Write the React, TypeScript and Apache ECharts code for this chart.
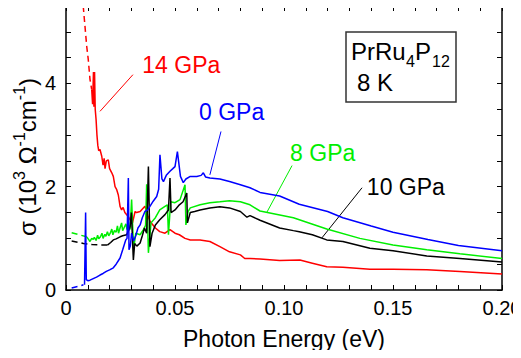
import React, { useEffect, useRef } from "react";
import * as echarts from "echarts";

// ---- data (photon energy eV, sigma 10^3 Ohm^-1 cm^-1) ----
const blueDash: number[][] = [[0.0026, 0.04], [0.0055, 0.07], [0.008, 0.1]];
const blue: number[][] = [
  [0.0085, 0.1], [0.009, 1.5], [0.0093, 0.2], [0.01, 0.18], [0.011, 0.19], [0.0125, 0.22], [0.014, 0.25],
  [0.0156, 0.29], [0.017, 0.32], [0.0185, 0.36], [0.02, 0.39], [0.0217, 0.43], [0.023, 0.5], [0.0248, 0.62],
  [0.026, 0.78], [0.0274, 0.97], [0.028, 1.0], [0.0286, 2.17], [0.0289, 0.78], [0.0295, 0.85], [0.0301, 1.1],
  [0.031, 0.95], [0.032, 1.05], [0.033, 1.2], [0.034, 1.26], [0.035, 1.4], [0.0362, 1.52], [0.0375, 1.55],
  [0.0385, 1.62], [0.04, 1.72], [0.0416, 1.81], [0.0425, 1.95], [0.0431, 2.62], [0.044, 2.15], [0.0447, 2.1],
  [0.046, 2.22], [0.0477, 2.3], [0.049, 2.35], [0.05, 2.39], [0.0511, 2.68], [0.0525, 2.2], [0.0538, 2.08],
  [0.055, 2.15], [0.057, 2.2], [0.06, 2.2], [0.062, 2.22], [0.063, 2.27], [0.064, 2.19], [0.066, 2.17],
  [0.0706, 2.15], [0.075, 2.1], [0.08, 2.04], [0.0844, 1.98], [0.089, 1.89], [0.098, 1.82], [0.107, 1.66],
  [0.12, 1.52], [0.127, 1.4], [0.14, 1.24], [0.15, 1.12], [0.166, 0.98], [0.18, 0.86], [0.2, 0.76],
];
const greenDash: number[][] = [[0.0026, 1.11], [0.006, 1.07], [0.0095, 1.03]];
const green: number[][] = [
  [0.0095, 1.03], [0.0105, 0.97], [0.011, 0.94], [0.0118, 1.0], [0.0125, 0.98], [0.013, 1.02], [0.0138, 0.96],
  [0.0145, 1.06], [0.015, 0.99], [0.0158, 1.03], [0.0165, 1.1], [0.017, 1.0], [0.0178, 1.08], [0.0183, 1.04],
  [0.019, 1.13], [0.0196, 1.05], [0.0203, 1.1], [0.021, 1.18], [0.0215, 1.07], [0.0222, 1.15], [0.023, 1.12],
  [0.0236, 1.24], [0.0241, 1.1], [0.0248, 1.2], [0.0255, 1.3], [0.026, 1.15], [0.0268, 1.22], [0.0275, 1.28],
  [0.028, 1.17], [0.0287, 1.25], [0.0294, 1.17],
  [0.0301, 1.75], [0.031, 0.78], [0.032, 1.1], [0.034, 1.07], [0.0355, 1.17], [0.0365, 1.25], [0.037, 2.05],
  [0.0378, 0.72], [0.039, 1.3], [0.041, 1.4], [0.043, 1.55], [0.0454, 1.62], [0.0465, 1.65], [0.047, 1.07],
  [0.048, 1.71], [0.05, 1.69], [0.0523, 1.75], [0.0546, 2.04], [0.055, 1.26], [0.056, 1.52], [0.057, 1.59],
  [0.0615, 1.65], [0.066, 1.69], [0.0706, 1.71], [0.075, 1.73], [0.08, 1.71], [0.0844, 1.65], [0.089, 1.53],
  [0.1043, 1.4], [0.1196, 1.18], [0.1348, 1.0], [0.15, 0.87], [0.1655, 0.78], [0.1807, 0.7], [0.2, 0.61],
];
const blackDash: number[][] = [[0.0026, 0.95], [0.008, 0.9], [0.012, 0.88], [0.016, 0.87], [0.019, 0.87]];
const black: number[][] = [
  [0.019, 0.87], [0.0205, 0.92], [0.0217, 0.97], [0.023, 0.99], [0.0248, 1.03], [0.026, 1.05], [0.0278, 1.07],
  [0.0287, 1.15], [0.0294, 1.23], [0.03, 1.5], [0.0309, 0.58], [0.0315, 0.9], [0.0325, 0.85], [0.034, 0.91],
  [0.035, 1.05], [0.036, 1.2], [0.037, 1.1], [0.0378, 2.39], [0.0385, 0.84], [0.0395, 1.1], [0.041, 1.26],
  [0.043, 1.36], [0.0454, 1.46], [0.047, 1.55], [0.0477, 2.17], [0.0482, 1.5], [0.05, 1.55], [0.052, 1.65],
  [0.0537, 1.71], [0.0554, 1.88], [0.0557, 1.3], [0.057, 1.5], [0.059, 1.52], [0.0615, 1.55], [0.066, 1.59],
  [0.0706, 1.61], [0.075, 1.59], [0.08, 1.52], [0.083, 1.41], [0.0844, 1.44], [0.089, 1.35], [0.098, 1.2],
  [0.1043, 1.15], [0.107, 1.13], [0.113, 1.07], [0.1196, 0.97], [0.127, 0.94], [0.1394, 0.81], [0.15, 0.76],
  [0.1655, 0.66], [0.1807, 0.61], [0.2, 0.54],
];
const redDash: number[][] = [[0.0079, 5.5], [0.0087, 5.11], [0.0095, 4.72], [0.0102, 4.47], [0.011, 4.08], [0.0118, 3.88]];
const red: number[][] = [
  [0.0118, 3.88], [0.0122, 3.6], [0.0126, 4.22], [0.0128, 3.55], [0.0131, 4.22], [0.0134, 3.5], [0.0138, 3.3],
  [0.0142, 3.0], [0.0146, 2.8], [0.015, 2.7], [0.0156, 2.72], [0.0164, 2.59], [0.017, 2.42], [0.0175, 2.55],
  [0.0179, 2.35], [0.0185, 2.5], [0.0194, 2.52], [0.02, 2.35], [0.021, 2.27], [0.0217, 2.2], [0.0225, 2.0],
  [0.0232, 1.95], [0.024, 1.84], [0.0248, 1.62], [0.0255, 1.55], [0.0262, 1.6], [0.027, 1.5], [0.0286, 1.42],
  [0.0294, 1.36], [0.0305, 1.3], [0.0317, 1.52], [0.0324, 1.5], [0.034, 1.52], [0.0362, 1.62], [0.0375, 1.45],
  [0.0385, 1.33], [0.041, 1.2], [0.043, 1.13], [0.0454, 1.1], [0.0477, 1.17], [0.05, 1.1], [0.052, 1.07],
  [0.0546, 1.0], [0.057, 0.97], [0.0615, 0.97], [0.066, 0.94], [0.0706, 0.84], [0.075, 0.74], [0.08, 0.68],
  [0.082, 0.61], [0.0844, 0.61], [0.089, 0.6], [0.098, 0.57], [0.1073, 0.58], [0.113, 0.52], [0.1196, 0.45],
  [0.127, 0.44], [0.1394, 0.4], [0.15, 0.4], [0.1655, 0.39], [0.1807, 0.36], [0.2, 0.31],
];

const xMin = 0, xMax = 0.2, xStep = 0.01;
const yMin = 0, yMax = 5.5, yStep = 0.5;
const xTitle = "Photon Energy (eV)";

const RED = "#ff0000", BLUE = "#0000ff", GREEN = "#00ee00", BLACK = "#000000";

const annotations = [
  { text: "14 GPa", color: RED, label: [0.0350, 4.35], from: [0.0307, 4.17], to: [0.0156, 3.46] },
  { text: "0 GPa", color: BLUE, label: [0.0610, 3.44], from: [0.0711, 3.07], to: [0.066, 2.23] },
  { text: "8 GPa", color: GREEN, label: [0.1028, 2.66], from: [0.1037, 2.41], to: [0.0922, 1.51] },
  { text: "10 GPa", color: BLACK, label: [0.1380, 2.0], from: [0.1358, 1.98], to: [0.1174, 1.01] },
];

const FONT = "Liberation Sans, Arial, sans-serif";

export default function App() {
  const ref = useRef<HTMLDivElement>(null);
  useEffect(() => {
    if (!ref.current) return;
    const chart = echarts.init(ref.current, null, { renderer: "svg" });
    const isMult = (v: number, m: number) => Math.abs(v / m - Math.round(v / m)) < 1e-6;
    const axisCommon = {
      type: "value" as const,
      axisLine: { show: true, onZero: false, lineStyle: { color: "#000", width: 1.5 } },
      axisTick: { show: true, inside: true, length: 5, lineStyle: { color: "#000", width: 1 } },
      splitLine: { show: false },
    };
    const line = (data: number[][], color: string, dashed = false) => ({
      type: "line",
      data,
      showSymbol: false,
      symbol: "none",
      clip: true,
      lineStyle: { color, width: 1.5, type: dashed ? [6, 4] : "solid" },
      silent: true,
    });
    chart.setOption({
      animation: false,
      backgroundColor: "#fff",
      textStyle: { fontFamily: FONT },
      grid: { left: 66, right: 19, top: 6, bottom: 68, containLabel: false, outerBoundsMode: "none" },
      xAxis: [
        {
          ...axisCommon, min: xMin, max: xMax, interval: xStep, position: "bottom",
          axisLabel: {
            show: true, interval: 0, margin: 8, fontSize: 20, color: "#000", fontFamily: FONT,
            formatter: (v: number) => (isMult(v, 0.05) ? (v === 0 ? "0" : v.toFixed(2)) : ""),
          },
          name: xTitle, nameLocation: "middle", nameGap: 37,
          nameTextStyle: { fontSize: 23, color: "#000", fontFamily: FONT },
        },
        { ...axisCommon, min: xMin, max: xMax, interval: xStep, position: "top", axisLabel: { show: false } },
      ],
      yAxis: [
        {
          ...axisCommon, min: yMin, max: yMax, interval: yStep, position: "left",
          axisLabel: {
            show: true, interval: 0, margin: 10, fontSize: 20, color: "#000", fontFamily: FONT,
            formatter: (v: number) => (isMult(v, 2) ? String(Math.round(v)) : ""),
          },
        },
        { ...axisCommon, min: yMin, max: yMax, interval: yStep, position: "right", axisLabel: { show: false } },
      ],
      series: [
        line(redDash, RED, true),
        line(red, RED),
        line(greenDash, GREEN, true),
        line(green, GREEN),
        line(blackDash, BLACK, true),
        line(black, BLACK),
        line(blueDash, BLUE, true),
        line(blue, BLUE),
      ],
    });

    const px = (p: number[]) => chart.convertToPixel({ xAxisIndex: 0, yAxisIndex: 0 }, p) as number[];
    const graphics: any[] = [];
    annotations.forEach((a) => {
      const l = px(a.label), f = px(a.from), t = px(a.to);
      graphics.push({
        type: "text", x: l[0], y: l[1], silent: true,
        style: { text: a.text, fill: a.color, font: `23px ${FONT}`, align: "left", verticalAlign: "middle" },
      });
      graphics.push({
        type: "line", silent: true,
        shape: { x1: f[0], y1: f[1], x2: t[0], y2: t[1] },
        style: { stroke: a.color, lineWidth: 1 },
      });
    });
    // sample box
    graphics.push({
      type: "rect", silent: true, shape: { x: 346, y: 32, width: 110, height: 70 },
      style: { fill: "#fff", stroke: "#333", lineWidth: 1.5 }, z: 10,
    });
    const boxText = (text: string, x: number, y: number, size: number) => ({
      type: "text", x, y, silent: true, z: 11,
      style: { text, fill: "#000", font: `${size}px ${FONT}`, align: "left", verticalAlign: "middle" },
    });
    graphics.push(boxText("PrRu", 351, 51, 24));
    graphics.push(boxText("4", 406, 61, 16));
    graphics.push(boxText("P", 415, 51, 24));
    graphics.push(boxText("12", 432, 61, 16));
    graphics.push(boxText("8 K", 357, 82, 24));
    // y-axis title
    graphics.push({
      type: "text", x: 25, y: 157, rotation: Math.PI / 2, silent: true,
      style: {
        text: "{a|σ (10}{s|3}{a| Ω}{s|-1}{a|cm}{s|-1}{a|)}",
        align: "center", verticalAlign: "middle",
        rich: {
          a: { fontSize: 24, fontFamily: FONT, fill: "#000", lineHeight: 28, verticalAlign: "bottom" },
          s: { fontSize: 16, fontFamily: FONT, fill: "#000", lineHeight: 28, verticalAlign: "top", padding: [0, 0, 10, 0] },
        },
      },
    });
    chart.setOption({ graphic: graphics });
    return () => chart.dispose();
  }, []);
  return <div ref={ref} style={{ width: 521, height: 358, margin: -8 }} />;
}
